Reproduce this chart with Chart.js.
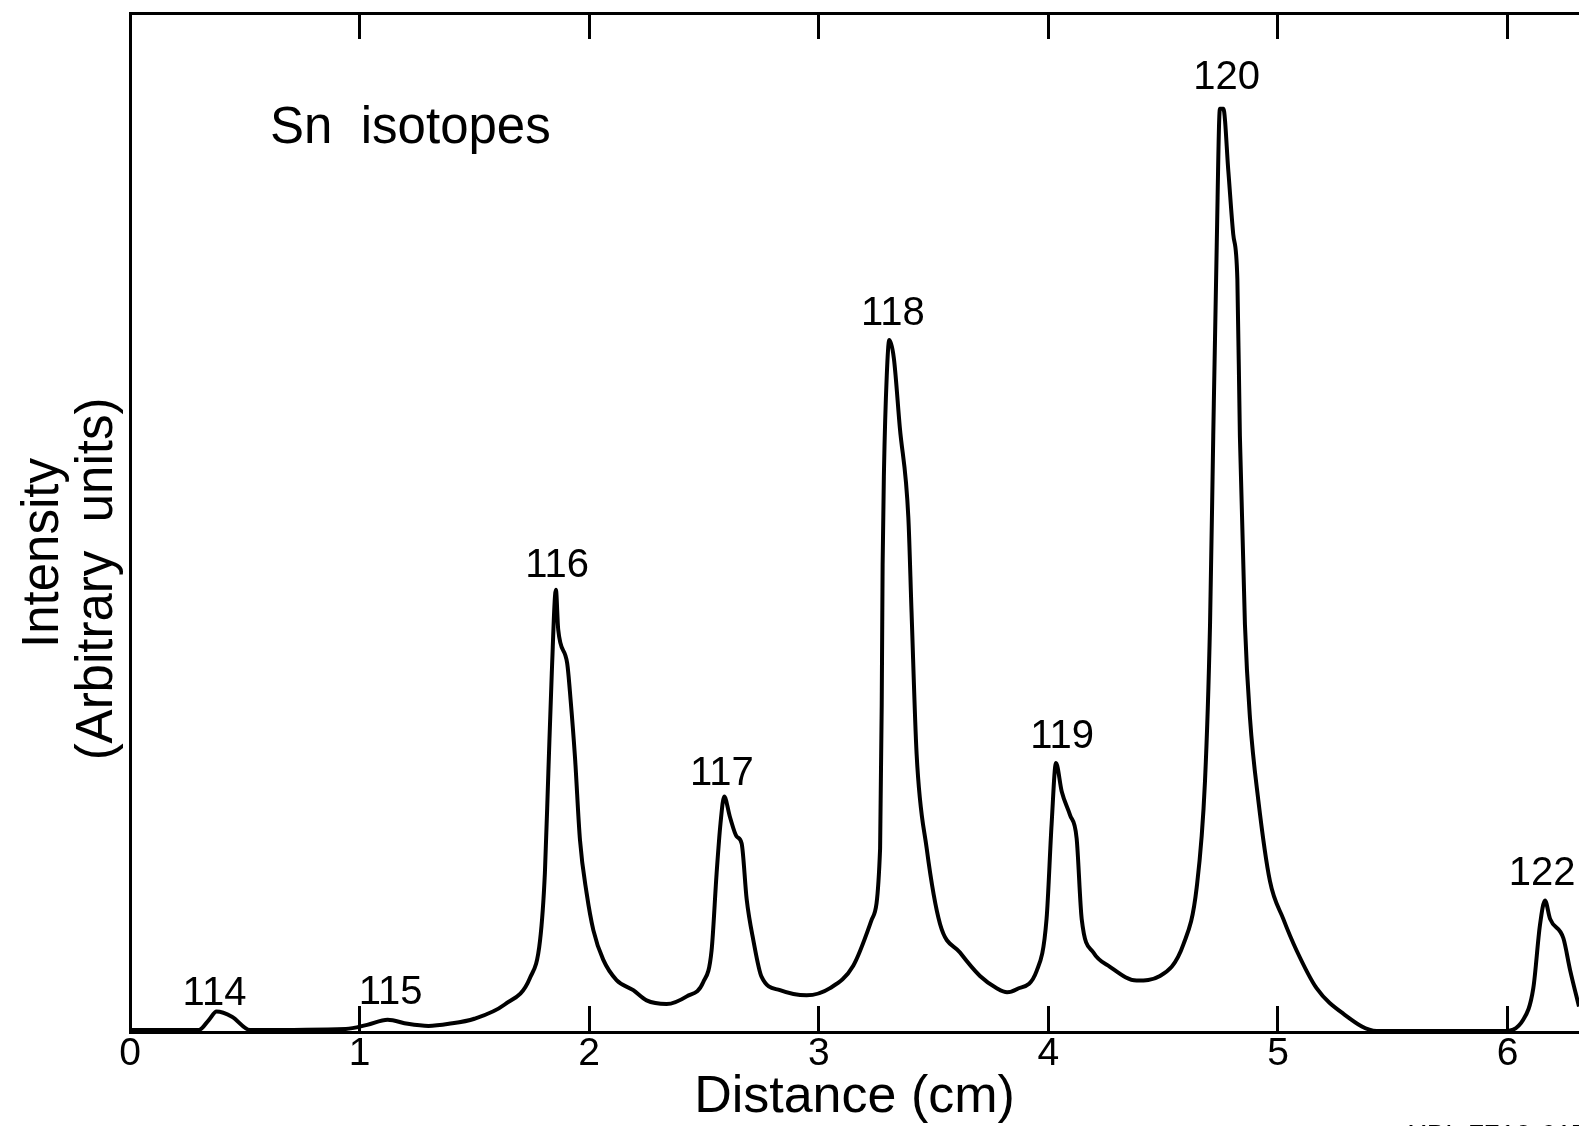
<!DOCTYPE html>
<html>
<head>
<meta charset="utf-8">
<title>Sn isotopes</title>
<script src="https://cdn.jsdelivr.net/npm/chart.js@4.4.0/dist/chart.umd.min.js"></script>
<style>
  html, body { margin: 0; padding: 0; background: #fff; overflow: hidden; }
  #wrap { width: 1579px; height: 1126px; }
</style>
</head>
<body>
<div id="wrap"><canvas id="snChart" width="1579" height="1126"></canvas></div>
<script>
// distance along the plate (cm)
var distance = [0, 0.30, 0.344, 0.377, 0.444, 0.523, 0.94, 1.033, 1.122, 1.21, 1.30, 1.389, 1.50, 1.632,
    1.742, 1.786, 1.807, 1.822, 1.837, 1.855, 1.865, 1.904, 1.919, 1.938, 1.960, 1.989, 2.018, 2.061,
    2.119, 2.192, 2.250, 2.337, 2.425, 2.497, 2.533, 2.555, 2.572, 2.588, 2.613, 2.642, 2.664, 2.686,
    2.715, 2.751, 2.831, 2.947, 3.049, 3.150, 3.230, 3.267, 3.274, 3.278, 3.284, 3.296, 3.307, 3.327,
    3.353, 3.390, 3.404, 3.426, 3.470, 3.528, 3.615, 3.702, 3.775, 3.820, 3.862, 3.949, 3.992, 4.014, 4.033,
    4.058, 4.094, 4.123, 4.145, 4.196, 4.268, 4.384, 4.486, 4.588, 4.646, 4.682, 4.704, 4.718, 4.733,
    4.747, 4.762, 4.784, 4.805, 4.823, 4.834, 4.856, 4.878, 4.914, 4.965, 5.023, 5.081, 5.168, 5.284,
    5.430, 5.981, 6.068, 6.112, 6.141, 6.163, 6.185, 6.243, 6.272, 6.311];

// intensity (arbitrary units, 100 = top of frame)
var intensity = [0.2, 0.2, 1.2, 2.0, 1.5, 0.2, 0.3, 0.7, 1.2, 0.8, 0.6, 0.8, 1.3, 2.7,
    5.3, 9.0, 15.6, 25.4, 35.2, 43.4, 39.5, 36.2, 32.6, 27.0, 18.8, 13.6, 10.0, 7.1,
    5.1, 4.1, 3.1, 2.75, 3.5, 4.9, 8.0, 15.6, 20.5, 23.1, 21.1, 19.2, 18.5, 13.0,
    9.0, 5.4, 4.1, 3.6, 4.3, 6.5, 11.0, 18.0, 32.0, 45.9, 55.2, 64.4, 67.9, 66.1,
    59.3, 50.5, 41.2, 27.3, 18.0, 10.6, 7.8, 5.5, 4.3, 3.9, 4.2, 6.0, 11.1, 20.4, 26.4,
    23.6, 21.3, 19.0, 11.1, 7.8, 6.4, 5.05, 5.5, 8.6, 14.2, 24.6, 40.0, 58.5, 77.0,
    90.6, 90.6, 84.4, 78.3, 73.9, 58.5, 40.0, 30.8, 22.8, 14.8, 11.1, 8.0, 4.3, 1.8,
    0.1, 0.1, 1.2, 4.3, 10.5, 12.9, 11.1, 9.2, 6.1, 2.5];

// isotope peak labels and where they sit
var isotopes = ['114', '115', '116', '117', '118', '119', '120', '122'];
var isotopeX = [0.368, 1.135, 1.86, 2.578, 3.323, 4.06, 4.776, 6.15];
var isotopeY = [2.65, 2.75, 44.65, 24.2, 69.4, 27.9, 92.5, 14.4];

var xTicks = [0, 1, 2, 3, 4, 5, 6];
var xTickLabels = ['0', '1', '2', '3', '4', '5', '6'];

var points = distance.map(function (d, i) { return { x: d, y: intensity[i] }; });

var FONT = "'Liberation Sans', Arial, sans-serif";

var sharedGrid = {
    display: true,
    drawOnChartArea: false,
    drawTicks: true,
    tickLength: -26,
    lineWidth: 3,
    color: '#000'
};

// texts inside the frame and the y title
var textPlugin = {
    id: 'texts',
    afterDraw: function (chart) {
        var ctx = chart.ctx;
        var xs = chart.scales.x, ys = chart.scales.y;
        var area = chart.chartArea;
        ctx.save();
        ctx.fillStyle = '#000';

        ctx.font = '51px ' + FONT;
        ctx.textAlign = 'left';
        ctx.textBaseline = 'alphabetic';
        ctx.fillText('Sn  isotopes', xs.getPixelForValue(0.61), ys.getPixelForValue(87.2));

        ctx.font = '40px ' + FONT;
        ctx.textAlign = 'center';
        for (var i = 0; i < isotopes.length; i++) {
            ctx.fillText(isotopes[i], xs.getPixelForValue(isotopeX[i]), ys.getPixelForValue(isotopeY[i]));
        }

        // y axis title, two lines rotated
        ctx.font = '51px ' + FONT;
        ctx.save();
        ctx.translate(area.left - 72, 553);
        ctx.rotate(-Math.PI / 2);
        ctx.fillText('Intensity', 0, 0);
        ctx.restore();
        ctx.save();
        ctx.translate(area.left - 18, 579);
        ctx.rotate(-Math.PI / 2);
        ctx.fillText('(Arbitrary  units)', 0, 0);
        ctx.restore();

        // plate number, cut off at the bottom edge
        ctx.font = '28px ' + FONT;
        ctx.textAlign = 'left';
        ctx.textBaseline = 'top';
        ctx.fillText('XBL 7710-6175', 1408, 1122);
        ctx.restore();
    }
};

var ctx = document.getElementById('snChart');
var snChart = new Chart(ctx, {
    type: 'line',
    data: {
        datasets: [{
            label: 'Sn isotopes',
            data: points,
            borderColor: '#000',
            borderWidth: 4,
            pointRadius: 0,
            fill: false,
            cubicInterpolationMode: 'monotone'
        }]
    },
    options: {
        responsive: false,
        animation: false,
        devicePixelRatio: 1,
        layout: { padding: 0 },
        plugins: {
            legend: { display: false },
            tooltip: { enabled: false }
        },
        scales: {
            x: {
                type: 'linear',
                position: 'bottom',
                min: 0,
                max: 6.311,
                afterBuildTicks: function (scale) {
                    scale.ticks = xTicks.map(function (v) { return { value: v }; });
                },
                afterFit: function (scale) { scale.height = 94; },
                grid: sharedGrid,
                border: { display: true, width: 3, color: '#000' },
                ticks: {
                    color: '#000',
                    padding: 25,
                    maxRotation: 0,
                    font: { family: FONT, size: 39 },
                    callback: function (v) { return xTickLabels[xTicks.indexOf(v)]; }
                },
                title: {
                    display: true,
                    text: 'Distance (cm)',
                    color: '#000',
                    font: { family: FONT, size: 52, lineHeight: 1 },
                    padding: { top: 0, bottom: 2 }
                }
            },
            x2: {
                type: 'linear',
                position: 'top',
                min: 0,
                max: 6.311,
                afterBuildTicks: function (scale) {
                    scale.ticks = xTicks.map(function (v) { return { value: v }; });
                },
                afterFit: function (scale) { scale.height = 13; },
                grid: sharedGrid,
                border: { display: true, width: 3, color: '#000' },
                ticks: { display: false }
            },
            y: {
                type: 'linear',
                position: 'left',
                min: 0,
                max: 100,
                afterFit: function (scale) { scale.width = 130; },
                grid: { display: false },
                border: { display: true, width: 3, color: '#000' },
                ticks: { display: false }
            }
        }
    },
    plugins: [textPlugin]
});
</script>
</body>
</html>
